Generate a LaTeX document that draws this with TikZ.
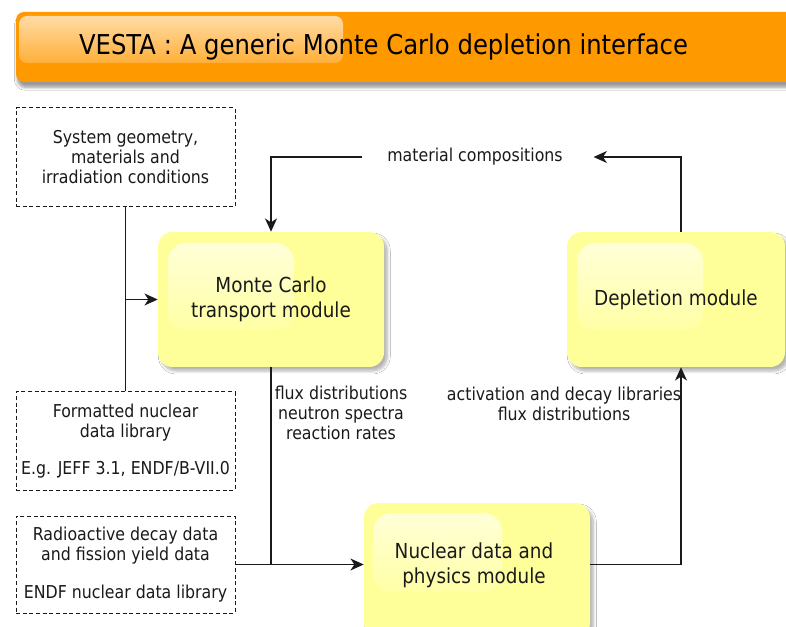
\documentclass[tikz,border=0pt]{standalone}
\usepackage{fontspec}
\setmainfont{DejaVu Sans}[FakeStretch=0.89]
\usetikzlibrary{shadows.blur,arrows.meta,calc}
\definecolor{orangebar}{RGB}{255,153,0}
\definecolor{modyellow}{RGB}{255,255,153}
\definecolor{txt}{RGB}{26,26,26}
\begin{document}
\begin{tikzpicture}[x=0.75pt,y=-0.75pt,
  font=\fontsize{13.3}{15}\selectfont, text=txt,
  inbox/.style={draw=txt, dash pattern=on 3pt off 2pt, line width=0.75pt, align=center, inner sep=0pt},
  module/.style={fill=modyellow, rounded corners=11pt, align=center, inner sep=0pt,
    font=\fontsize{15.5}{18.75}\selectfont,
    blur shadow={shadow xshift=2.5pt, shadow yshift=-3pt, shadow blur steps=6, shadow opacity=30}},
  gloss/.style={top color=white!62!modyellow, bottom color=white!12!modyellow, rounded corners=14pt},
  conn/.style={line width=1pt, draw=txt},
  arr/.style={conn, -{Stealth[length=10pt,width=9pt,inset=3pt]}},
  lab/.style={align=center, inner sep=0pt}]
\useasboundingbox (0,0) rectangle (786,627);
\clip (0,0) rectangle (786,627);
\fill[white] (0,0) rectangle (786,627);

% title bar
\path[fill=orangebar, rounded corners=6pt,
  blur shadow={shadow xshift=1pt, shadow yshift=-4pt, shadow blur steps=6, shadow opacity=40}]
  (16,12) rectangle (806,82);
\shade[rounded corners=6pt, top color=white!65!orangebar, bottom color=white!22!orangebar]
  (19,16) rectangle (343,63);
\node[font=\fontsize{20.5}{24}\selectfont, text=black] (title) at (383.5,47) {VESTA : A generic Monte Carlo depletion interface};

% input boxes
\node[inbox, minimum width=164.25pt, minimum height=74.25pt] (geo) at (125.5,157.5)
  {System geometry,\\materials and\\irradiation conditions};
\node[inbox, minimum width=164.25pt, minimum height=73.5pt] (lib) at (125.5,441)
  {Formatted nuclear\\data library\\[13pt]E.g. JEFF 3.1, ENDF/B-VII.0};
\node[inbox, minimum width=164.25pt, minimum height=72.75pt] (dec) at (125.5,564.5)
  {Radioactive decay data\\and fission yield data\\[13pt]ENDF nuclear data library};

% modules
\node[module, minimum width=169.5pt, minimum height=101.25pt] (mc) at (271,299.5) {};
\shade[gloss] (168,243) rectangle (294,330);
\node[lab, font=\fontsize{15.5}{18.75}\selectfont] (mct) at (mc) {Monte Carlo\\transport module};

\node[module, minimum width=163.5pt, minimum height=101.25pt] (dep) at (676,299.5) {};
\shade[gloss] (577,243) rectangle (703,330);
\node[lab, font=\fontsize{15.5}{18.75}\selectfont] (dept) at (dep) {Depletion module};

\node[module, minimum width=169.5pt, minimum height=101.25pt] (nuc) at (477,570.5) {};
\shade[gloss] (373,513) rectangle (502,592);
\node[lab, font=\fontsize{15.5}{18.75}\selectfont] (nuct) at (474,565) {Nuclear data and\\physics module};

% labels
\node[lab] (matcomp) at (475,157) {material compositions};
\node[lab] (flux) at (341,413) {flux distributions\\neutron spectra\\reaction rates};
\node[lab] (act) at (564,403.5) {activation and decay libraries\\flux distributions};

% connectors
\draw[conn] (geo.south) -- (lib.north);
\draw[arr] (geo.south |- mc.west) -- (mc.west);
\draw[arr, shorten >=23pt] ([xshift=3.75pt]dep.north) |- (matcomp.east);
\draw[arr, shorten <=18.75pt] (matcomp.west) -| (mc.north);
\draw[conn] (mc.south) -- (mc.south |- dec.east);
\draw[arr] (dec.east) -- (dec.east -| nuc.west);
\draw[arr] (nuc.east |- dec.east) -| ([xshift=3.75pt]dep.south);
\end{tikzpicture}
\end{document}
